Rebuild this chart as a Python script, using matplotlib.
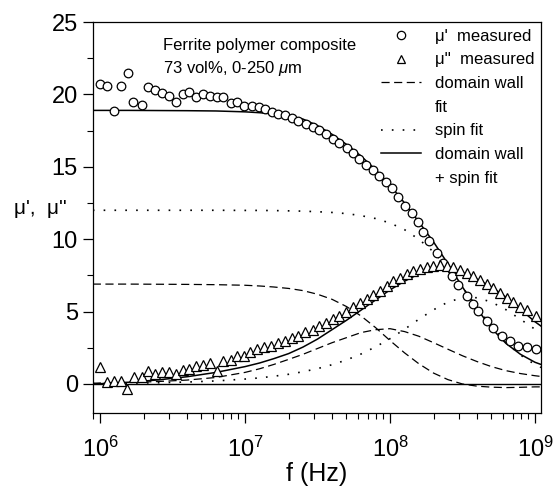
import numpy as np
import matplotlib
matplotlib.use("Agg")
import matplotlib.pyplot as plt
from matplotlib.lines import Line2D

plt.rcParams['font.family'] = ['Liberation Sans', 'DejaVu Sans']
plt.rcParams['mathtext.fontset'] = 'custom'
plt.rcParams['mathtext.rm'] = 'Liberation Sans'
plt.rcParams['mathtext.it'] = 'Liberation Sans:italic'

# measured mu'
f_re = [1.00e6, 1.11e6, 1.24e6, 1.39e6, 1.57e6, 1.70e6, 1.94e6, 2.15e6, 2.39e6, 2.66e6,
        2.99e6, 3.34e6, 3.72e6, 4.13e6, 4.59e6, 5.15e6, 5.74e6, 6.38e6, 7.08e6, 7.96e6,
        8.85e6, 9.84e6, 1.11e7, 1.24e7, 1.37e7, 1.53e7, 1.70e7, 1.89e7, 2.10e7, 2.33e7,
        2.62e7, 2.93e7, 3.25e7, 3.62e7, 4.03e7, 4.47e7, 5.02e7, 5.58e7, 6.14e7, 6.83e7,
        7.60e7, 8.44e7, 9.38e7, 1.03e8, 1.14e8, 1.27e8, 1.41e8, 1.57e8, 1.70e8, 1.87e8,
        2.10e8, 2.33e8, 2.66e8, 2.96e8, 3.38e8, 3.76e8, 4.06e8, 4.65e8, 5.16e8, 5.89e8,
        6.73e8, 7.67e8, 8.77e8, 1.01e9]
mu_re = [20.7, 20.6, 18.85, 20.6, 21.45, 19.5, 19.3, 20.5, 20.3, 20.1,
         19.9, 19.5, 20.05, 20.15, 19.8, 20.0, 19.9, 19.8, 19.8, 19.4,
         19.5, 19.2, 19.2, 19.1, 18.97, 18.8, 18.67, 18.6, 18.4, 18.16,
         17.98, 17.75, 17.54, 17.24, 16.94, 16.67, 16.3, 15.98, 15.56, 15.1,
         14.76, 14.37, 13.95, 13.57, 12.9, 12.3, 11.8, 11.2, 10.5, 9.88,
         9.03, 8.39, 7.47, 6.83, 6.09, 5.52, 5.06, 4.37, 3.9, 3.33,
         2.99, 2.64, 2.53, 2.41]

# measured mu''
f_im = [1.00e6, 1.11e6, 1.25e6, 1.39e6, 1.54e6, 1.71e6, 1.94e6, 2.15e6, 2.39e6, 2.66e6,
        2.99e6, 3.34e6, 3.72e6, 4.13e6, 4.59e6, 5.15e6, 5.74e6, 6.44e6, 7.08e6, 7.96e6,
        8.85e6, 9.84e6, 1.08e7, 1.20e7, 1.35e7, 1.50e7, 1.70e7, 1.89e7, 2.10e7, 2.33e7,
        2.59e7, 2.93e7, 3.25e7, 3.62e7, 4.03e7, 4.47e7, 4.98e7, 5.58e7, 6.21e7, 6.90e7,
        7.67e7, 8.51e7, 9.48e7, 1.05e8, 1.17e8, 1.30e8, 1.45e8, 1.61e8, 1.79e8, 1.99e8,
        2.21e8, 2.46e8, 2.74e8, 3.04e8, 3.38e8, 3.76e8, 4.18e8, 4.65e8, 5.16e8, 5.74e8,
        6.38e8, 7.10e8, 7.89e8, 8.77e8, 1.02e9]
mu_im = [1.15, 0.16, 0.23, 0.23, -0.34, 0.46, 0.46, 0.92, 0.69, 0.8,
         0.85, 0.69, 0.99, 1.03, 1.26, 1.31, 1.45, 0.92, 1.61, 1.66,
         1.91, 1.91, 2.18, 2.41, 2.53, 2.64, 2.83, 2.99, 3.15, 3.33,
         3.56, 3.74, 3.98, 4.21, 4.48, 4.71, 4.99, 5.29, 5.59, 5.86,
         6.15, 6.45, 6.8, 7.1, 7.35, 7.6, 7.8, 7.95, 8.1, 8.18,
         8.2, 8.15, 8.05, 7.9, 7.7, 7.45, 7.2, 6.9, 6.6, 6.3,
         5.95, 5.65, 5.35, 5.1, 4.7]

# fit curves
f_fit = [8.91e5, 1e6, 1.58e6, 2.51e6, 3.98e6, 6.31e6, 1e7, 1.26e7, 1.58e7, 2.0e7,
         2.51e7, 3.16e7, 3.98e7, 5.01e7, 6.31e7, 7.94e7, 1e8, 1.26e8, 1.58e8, 2.0e8,
         2.51e8, 3.16e8, 3.98e8, 5.01e8, 6.31e8, 7.94e8, 1e9, 1.1e9]
dw_re = [6.9, 6.9, 6.9, 6.89, 6.88, 6.86, 6.82, 6.77, 6.7, 6.6,
         6.45, 6.2, 5.85, 5.35, 4.7, 3.9, 3.0, 2.15, 1.4, 0.75,
         0.3, 0.0, -0.15, -0.22, -0.25, -0.23, -0.2, -0.2]
dw_im = [0.05, 0.07, 0.1, 0.17, 0.27, 0.45, 0.8, 1.05, 1.35, 1.7,
         2.05, 2.45, 2.85, 3.2, 3.55, 3.75, 3.82, 3.62, 3.3, 2.85,
         2.4, 1.95, 1.55, 1.2, 0.92, 0.72, 0.57, 0.52]
sp_re = [12.0, 12.0, 12.0, 12.0, 12.0, 12.0, 11.99, 11.99, 11.98, 11.96,
         11.94, 11.9, 11.85, 11.77, 11.63, 11.43, 11.12, 10.66, 10.0, 9.12,
         7.99, 6.69, 5.31, 4.0, 2.88, 2.0, 1.34, 1.14]
sp_im = [0.03, 0.034, 0.054, 0.085, 0.135, 0.21, 0.34, 0.42, 0.535, 0.67,
         0.845, 1.06, 1.33, 1.66, 2.07, 2.56, 3.13, 3.78, 4.47, 5.13,
         5.66, 5.96, 5.96, 5.66, 5.13, 4.47, 3.78, 3.51]
tot_re = [18.9, 18.9, 18.9, 18.89, 18.88, 18.86, 18.8, 18.74, 18.65, 18.52,
          18.3, 17.85, 17.25, 16.55, 15.75, 14.8, 13.75, 12.5, 11.2, 9.8,
          8.3, 6.7, 5.2, 3.85, 2.8, 2.05, 1.5, 1.35]
tot_im = [0.0, 0.02, 0.12, 0.28, 0.5, 0.8, 1.2, 1.45, 1.75, 2.1,
          2.55, 3.1, 3.75, 4.4, 5.1, 5.8, 6.5, 7.1, 7.6, 7.9,
          7.95, 7.7, 7.25, 6.7, 6.0, 5.15, 4.3, 4.0]

fig = plt.figure(figsize=(5.54, 4.91), dpi=100)
ax = fig.add_axes([0.168, 0.159, 0.8085, 0.796])

dash = (0, (6.5, 3.6))
dot = (0, (1, 5.5))
ax.axhline(0, color='k', lw=1.0)
ax.plot(f_fit, dw_re, color='k', lw=0.9, linestyle=dash)
ax.plot(f_fit, dw_im, color='k', lw=0.9, linestyle=dash)
ax.plot(f_fit, sp_re, color='k', lw=1.2, linestyle=dot)
ax.plot(f_fit, sp_im, color='k', lw=1.2, linestyle=dot)
ax.plot(f_fit, tot_re, color='k', lw=1.1)
ax.plot(f_fit, tot_im, color='k', lw=1.1)
ax.plot(f_re, mu_re, 'o', ms=6.2, mfc='white', mec='k', mew=0.9)
ax.plot(f_im, mu_im, '^', ms=6.8, mfc='white', mec='k', mew=0.9)

ax.set_xscale('log')
ax.set_xlim(8.95e5, 1.1e9)
ax.set_ylim(-2, 25)
ax.set_yticks([0, 5, 10, 15, 20, 25])
ax.set_yticks([-2.5 + 5 * k for k in range(1, 6)], minor=True)
ax.tick_params(which='major', direction='out', length=7, width=0.9, labelsize=17, pad=4)
ax.tick_params(axis='x', which='major', pad=10)
ax.tick_params(which='minor', direction='out', length=4, width=0.8)
for s in ax.spines.values():
    s.set_linewidth(0.9)

ax.set_xlabel('f (Hz)', fontsize=18, labelpad=0)
ax.set_ylabel("\u03bc',  \u03bc''", fontsize=15, rotation=0, ha='center', va='center')
ax.yaxis.set_label_coords(-0.118, 0.524)

ax.text(0.157, 0.94, 'Ferrite polymer composite', transform=ax.transAxes,
        fontsize=12, ha='left', va='center')
ax.text(0.157, 0.882, '73 vol%, 0-250 $\\mathit{\\mu}$m', transform=ax.transAxes,
        fontsize=12, ha='left', va='center')

blank = Line2D([], [], color='none')
handles = [
    Line2D([], [], marker='o', ls='none', ms=6, mfc='white', mec='k', mew=0.9),
    Line2D([], [], marker='^', ls='none', ms=6, mfc='white', mec='k', mew=0.9),
    Line2D([], [], color='k', lw=0.9, linestyle=dash),
    blank,
    Line2D([], [], color='k', lw=1.2, linestyle=dot),
    Line2D([], [], color='k', lw=1.1),
    blank,
]
labels = ["\u03bc'  measured", "\u03bc''  measured", 'domain wall', 'fit',
          'spin fit', 'domain wall', '+ spin fit']
ax.legend(handles, labels, loc='upper right', frameon=False, fontsize=12,
          handlelength=2.4, handletextpad=0.8, labelspacing=0.52,
          borderaxespad=0.2, borderpad=0.2, numpoints=1)

fig.savefig('out.png', dpi=100)
